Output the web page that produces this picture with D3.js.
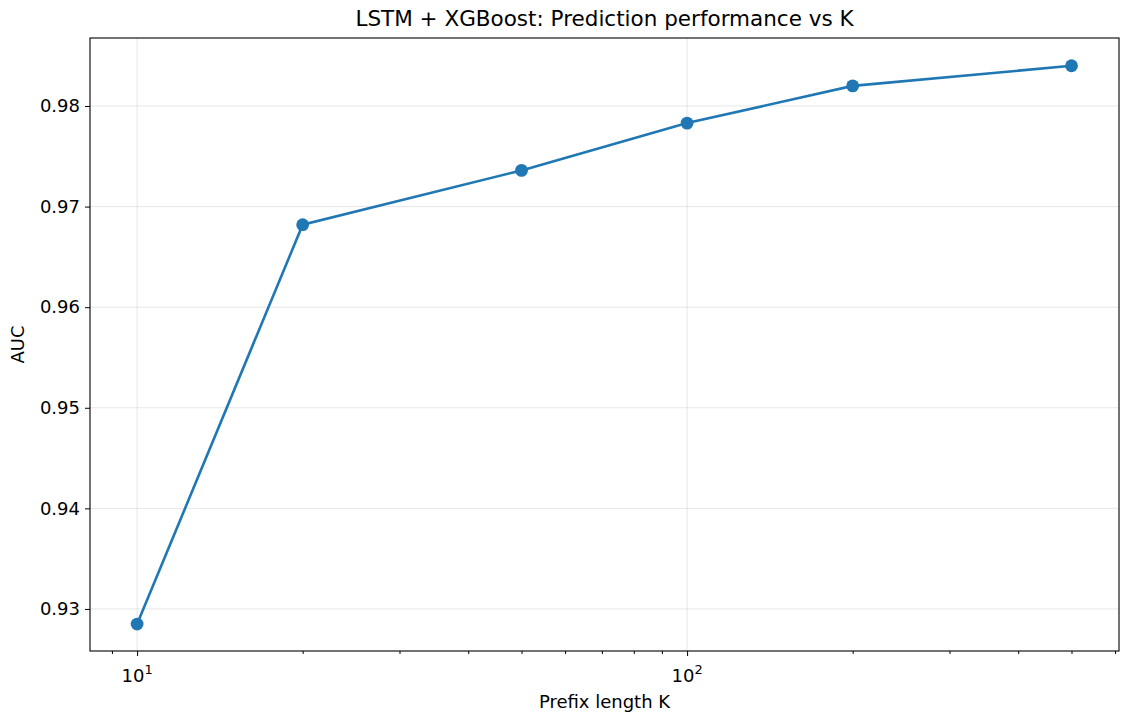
<!DOCTYPE html>
<html>
<head>
<meta charset="utf-8">
<script src="https://cdn.jsdelivr.net/npm/d3@7"></script>
<style>
  body { margin: 0; background: #fff; }
  svg { font-family: "DejaVu Sans", sans-serif; }
</style>
</head>
<body>
<svg width="1129" height="720"></svg>
<script>
// prefix lengths and the AUC
var prefixK = [10, 20, 50, 100, 200, 500];
var aucValues = [0.9285, 0.9682, 0.9736, 0.9783, 0.9820, 0.9840];
var yTicks = [0.93, 0.94, 0.95, 0.96, 0.97, 0.98];
var xMajor = [10, 100];
var xMinor = [9, 20, 30, 40, 50, 60, 70, 80, 90, 200, 300, 400, 500, 600];

var data = prefixK.map(function(k, i) { return { k: k, auc: aucValues[i] }; });

var svg = d3.select('svg');
// plot box (window.top is taken, so pTop)
var pLeft = 90, pRight = 1119, pTop = 38, pBottom = 651;
var blue = '#1f77b4';

var x = d3.scaleLog().domain([8.21, 610]).range([pLeft, pRight]);
var y = d3.scaleLinear().domain([0.92582, 0.98676]).range([pBottom, pTop]);

// grid
svg.append('g').selectAll('line').data(yTicks).enter().append('line')
  .attr('x1', pLeft).attr('x2', pRight)
  .attr('y1', function(d) { return y(d); }).attr('y2', function(d) { return y(d); })
  .attr('stroke', '#b0b0b0').attr('stroke-opacity', 0.3).attr('stroke-width', 1);
svg.append('g').selectAll('line').data(xMajor).enter().append('line')
  .attr('y1', pTop).attr('y2', pBottom)
  .attr('x1', function(d) { return x(d); }).attr('x2', function(d) { return x(d); })
  .attr('stroke', '#b0b0b0').attr('stroke-opacity', 0.3).attr('stroke-width', 1);

// line + markers
var line = d3.line()
  .x(function(d) { return x(d.k); })
  .y(function(d) { return y(d.auc); });

svg.append('path').datum(data)
  .attr('d', line)
  .attr('fill', 'none')
  .attr('stroke', blue)
  .attr('stroke-width', 2.6);

svg.append('g').selectAll('circle').data(data).enter().append('circle')
  .attr('cx', function(d) { return x(d.k); })
  .attr('cy', function(d) { return y(d.auc); })
  .attr('r', 6.4)
  .attr('fill', blue);

// frame
svg.append('rect')
  .attr('x', pLeft).attr('y', pTop)
  .attr('width', pRight - pLeft).attr('height', pBottom - pTop)
  .attr('fill', 'none').attr('stroke', '#000').attr('stroke-width', 1.1);

// y axis
var yAxis = d3.axisLeft(y).tickValues(yTicks).tickSize(5).tickPadding(5)
  .tickFormat(d3.format('.2f'));
var gy = svg.append('g').attr('transform', 'translate(' + pLeft + ',0)').call(yAxis);
gy.select('.domain').remove();
gy.attr('font-size', 18).attr('font-family', '"DejaVu Sans", sans-serif');
gy.selectAll('text').attr('fill', '#000');

// x axis, minor ticks then major with 10^n labels
var gx = svg.append('g').attr('transform', 'translate(0,' + pBottom + ')');
gx.call(d3.axisBottom(x).tickValues(xMinor).tickSize(3).tickFormat(''));
gx.select('.domain').remove();
var gxMajor = svg.append('g').attr('transform', 'translate(0,' + pBottom + ')');
gxMajor.call(d3.axisBottom(x).tickValues(xMajor).tickSize(5).tickFormat(''));
gxMajor.select('.domain').remove();
gxMajor.attr('font-size', 18).attr('font-family', '"DejaVu Sans", sans-serif');

var lab = gxMajor.selectAll('text.lbl').data(xMajor).enter().append('text')
  .attr('class', 'lbl')
  .attr('x', function(d) { return x(d); })
  .attr('y', 31)
  .attr('text-anchor', 'middle')
  .attr('fill', '#000');
lab.append('tspan').text('10');
lab.append('tspan').attr('dy', -8).attr('font-size', 13)
  .text(function(d) { return Math.round(Math.log10(d)); });

svg.selectAll('.tick line').attr('stroke', '#000');

// titles
svg.append('text').attr('x', (pLeft + pRight) / 2).attr('y', 26)
  .attr('text-anchor', 'middle').attr('font-size', 21.5)
  .text('LSTM + XGBoost: Prediction performance vs K');
svg.append('text').attr('x', (pLeft + pRight) / 2).attr('y', 708)
  .attr('text-anchor', 'middle').attr('font-size', 18)
  .text('Prefix length K');
svg.append('text')
  .attr('transform', 'translate(24,' + (pTop + pBottom) / 2 + ') rotate(-90)')
  .attr('text-anchor', 'middle').attr('font-size', 18)
  .text('AUC');
</script>
</body>
</html>
